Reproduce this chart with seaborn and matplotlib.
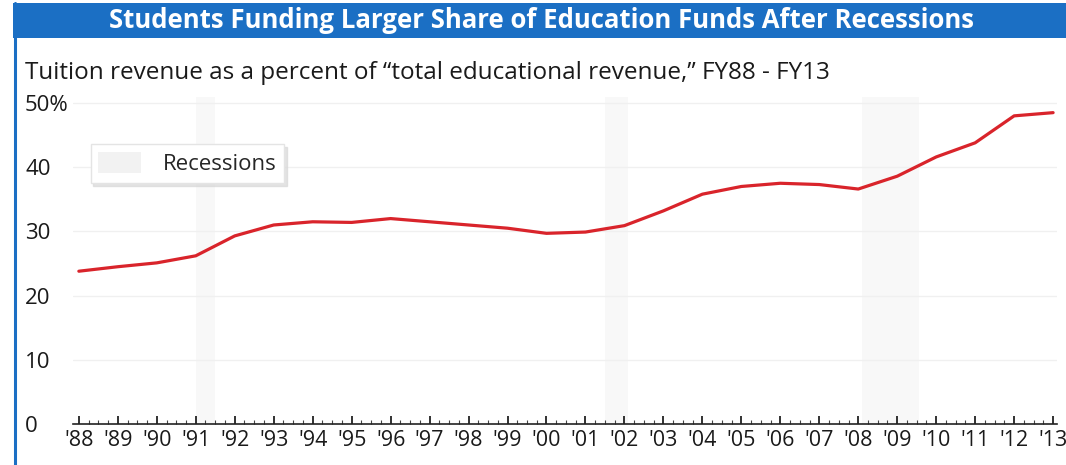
import numpy as np
import pandas as pd
import matplotlib
matplotlib.use("Agg")
import matplotlib.pyplot as plt
import seaborn as sns
from matplotlib.patches import Patch, Rectangle
from matplotlib.lines import Line2D
from matplotlib.ticker import MultipleLocator

# --- data ---
years = list(range(1988, 2014))
tuition_share = [23.8, 24.5, 25.1, 26.2, 29.3, 31.0, 31.5, 31.4, 32.0, 31.5,
                 31.0, 30.5, 29.7, 29.9, 30.9, 33.2, 35.8, 37.0, 37.5, 37.3,
                 36.6, 38.6, 41.6, 43.8, 48.0, 48.5]
recession_start = [1991.0, 2001.5, 2008.1]
recession_end = [1991.5, 2002.1, 2009.55]
year_labels = ["'%02d" % (y % 100) for y in years]
y_ticks = [0, 10, 20, 30, 40, 50]
y_labels = ["0", "10", "20", "30", "40", "50%"]

title = "Students Funding Larger Share of Education Funds After Recessions"
subtitle = "Tuition revenue as a percent of \u201ctotal educational revenue,\u201d FY88 - FY13"

df = pd.DataFrame({"year": years, "share": tuition_share})

sns.set_style("white")
plt.rcParams['font.family'] = ['Open Sans', 'DejaVu Sans']

W, H = 1066, 465
fig = plt.figure(figsize=(W / 100, H / 100), dpi=100)

# axes placed in pixel terms
x0, x1 = 1987.85, 2013.1
ax = fig.add_axes([73 / W, (H - 424) / H, (1057 - 73) / W, 327.4 / H])

# recession bands (very faint in the original)
for s, e in zip(recession_start, recession_end):
    ax.axvspan(s, e, color='#f8f8f8', zorder=0, lw=0)

# gridlines
for yv in y_ticks[1:]:
    ax.axhline(yv, color='#f0f0f0', lw=1, zorder=1)

sns.lineplot(data=df, x="year", y="share", ax=ax, color='#d9242b', lw=2.3, zorder=3)

ax.set_xlim(x0, x1)
ax.set_ylim(0, 51)
ax.set_xlabel("")
ax.set_ylabel("")

ax.set_xticks(years)
ax.set_xticklabels(year_labels, fontsize=15.5, color='#1a1a1a')
ax.xaxis.set_minor_locator(MultipleLocator(0.25))
ax.tick_params(axis='x', which='major', direction='in', length=6, width=1.3,
               color='#222222', pad=4, bottom=True)
ax.tick_params(axis='x', which='minor', direction='in', length=3, width=0.8,
               color='#444444', bottom=True)

ax.set_yticks(y_ticks)
ax.set_yticklabels(y_labels, fontsize=16, color='#1a1a1a')
ax.tick_params(axis='y', length=0, pad=34.5)
for lab in ax.get_yticklabels():
    lab.set_ha('left')

for side in ['top', 'right', 'left']:
    ax.spines[side].set_visible(False)
ax.spines['bottom'].set_color('#222222')
ax.spines['bottom'].set_linewidth(1.2)

# legend
handle = Patch(facecolor='#f2f2f2', edgecolor='none')
leg = ax.legend([handle], ["Recessions"], loc='upper left',
                bbox_to_anchor=(0.018, 0.855), frameon=True, fancybox=False,
                shadow={'ox': 2, 'oy': -2, 'color': '#d8d8d8', 'alpha': 0.7},
                fontsize=16, handlelength=1.9, handleheight=1.1,
                borderpad=0.35, handletextpad=1.0, borderaxespad=0)
leg.get_frame().set_edgecolor('#e4e4e4')
leg.get_frame().set_linewidth(1.0)

# title bar and left border
fig.patches.append(Rectangle((13 / W, (H - 38) / H), 1 - 13 / W, 35 / H,
                             transform=fig.transFigure, facecolor='#1b6fc4',
                             edgecolor='none', zorder=0))
fig.lines.append(Line2D([15 / W, 15 / W], [0, (H - 3) / H], transform=fig.transFigure,
                        color='#1b6fc4', lw=2.2))
fig.text(0.508, (H - 20) / H, title, color='white', fontsize=18.5,
         fontweight='bold', ha='center', va='center')
fig.text(25 / W, (H - 73) / H, subtitle, color='#1a1a1a', fontsize=17.5,
         ha='left', va='center')

plt.savefig('out.png', dpi=100)
